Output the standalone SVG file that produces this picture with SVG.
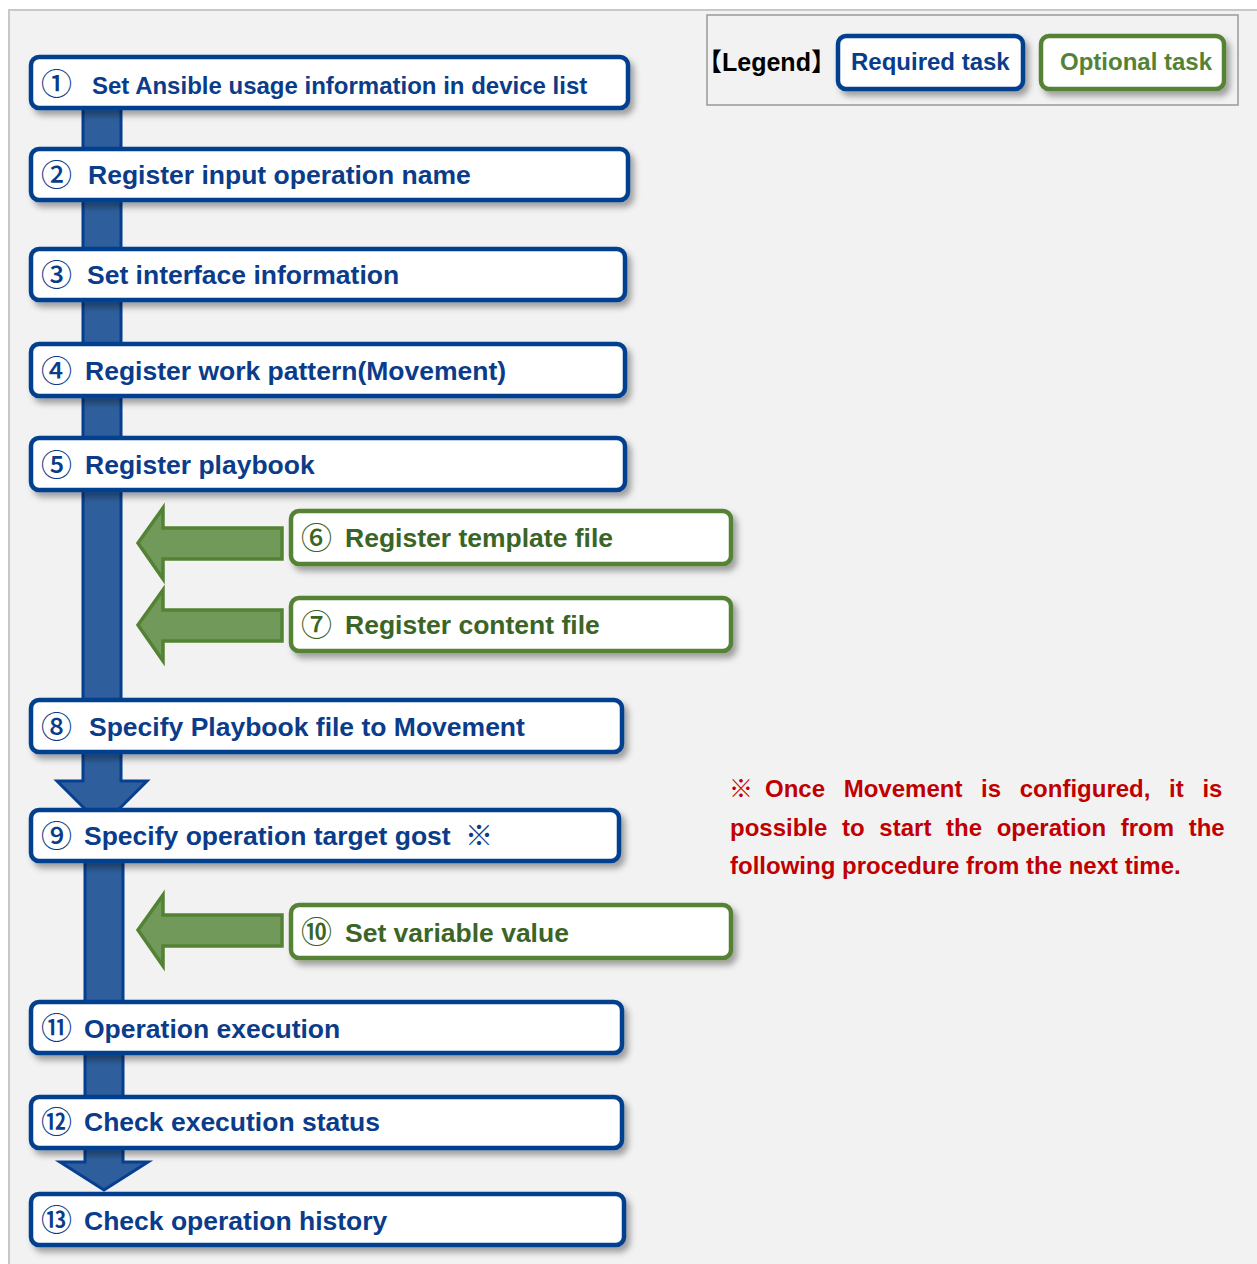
<svg xmlns="http://www.w3.org/2000/svg" width="1257" height="1264" viewBox="0 0 1257 1264">
<defs>
<filter id="sh" x="-10%" y="-30%" width="120%" height="170%">
<feDropShadow dx="4" dy="5" stdDeviation="3" flood-color="#000" flood-opacity="0.35"/>
</filter>
<style>
.req{fill:#fff;stroke:#063f8f;stroke-width:4.5;filter:url(#sh)}
.opt{fill:#fff;stroke:#548235;stroke-width:4.5;filter:url(#sh)}
.bar{fill:#2e5f9c;stroke:#063f8f;stroke-width:3}
.garr{fill:#71995a;stroke:#548235;stroke-width:3.5}
.t{font-family:"Liberation Sans",Arial,sans-serif;font-weight:bold;font-size:26.5px}
.tb{fill:#0b3c8a}
.tg{fill:#3b6526}
.n{font-family:"Noto Sans CJK JP","DejaVu Sans",sans-serif;font-weight:500;font-size:31px;dominant-baseline:central}
.red{font-family:"Liberation Sans",Arial,sans-serif;font-weight:bold;font-size:24px;fill:#c00000}
</style>
</defs>
<rect x="9" y="10" width="1270" height="1280" fill="#f2f2f2" stroke="#c8c8c8" stroke-width="2"/>

<g id="connectors">
<rect class="bar" x="83" y="100" width="38" height="605"/>
<polygon class="bar" points="83,750 121,750 121,781 147,781 102,826 57,781 83,781"/>
<rect class="bar" x="85" y="858" width="38" height="148"/>
<rect class="bar" x="85" y="1050" width="38" height="50"/>
<polygon class="bar" points="85,1145 123,1145 123,1162 148,1162 104,1190 60,1162 85,1162"/>
<polygon class="garr" points="138,543 163,508 163,528 282,528 282,559 163,559 163,579"/>
<polygon class="garr" points="138,625 163,590 163,610 282,610 282,641 163,641 163,661"/>
<polygon class="garr" points="138,930 163,895 163,915 282,915 282,946 163,946 163,966"/>
</g>

<g id="legend">
<rect x="707" y="15" width="531" height="90" fill="#f2f2f2" stroke="#999" stroke-width="1.5"/>
<text x="697" y="71" class="t" style="font-size:25px" fill="#000"><tspan font-family="Noto Sans CJK JP,sans-serif">【</tspan>Legend<tspan font-family="Noto Sans CJK JP,sans-serif">】</tspan></text>
<rect class="req" x="838" y="36" width="185" height="53" rx="8"/>
<text x="851" y="70" class="t tb" style="font-size:24px">Required task</text>
<rect class="opt" x="1041" y="36" width="183" height="53" rx="8"/>
<text x="1060" y="70" class="t" style="font-size:24px;fill:#548235">Optional task</text>
</g>

<g id="n1"><rect class="req" x="31" y="57" width="597" height="51" rx="8"/>
<text x="41" y="81" class="n tb">①</text><text x="92" y="94" class="t tb" style="font-size:24px">Set Ansible usage information in device list</text></g>
<g id="n2"><rect class="req" x="31" y="149" width="597" height="51" rx="8"/>
<text x="41" y="172" class="n tb">②</text><text x="88" y="184" class="t tb">Register input operation name</text></g>
<g id="n3"><rect class="req" x="31" y="249" width="594" height="51" rx="8"/>
<text x="41" y="272" class="n tb">③</text><text x="87" y="284" class="t tb">Set interface information</text></g>
<g id="n4"><rect class="req" x="31" y="344" width="594" height="52" rx="8"/>
<text x="41" y="368" class="n tb">④</text><text x="85" y="380" class="t tb">Register work pattern(Movement)</text></g>
<g id="n5"><rect class="req" x="31" y="438" width="594" height="52" rx="8"/>
<text x="41" y="462" class="n tb">⑤</text><text x="85" y="474" class="t tb">Register playbook</text></g>
<g id="n6"><rect class="opt" x="291" y="511" width="440" height="53" rx="8"/>
<text x="301" y="535" class="n tg">⑥</text><text x="345" y="547" class="t tg">Register template file</text></g>
<g id="n7"><rect class="opt" x="291" y="598" width="440" height="53" rx="8"/>
<text x="301" y="622" class="n tg">⑦</text><text x="345" y="634" class="t tg">Register content file</text></g>
<g id="n8"><rect class="req" x="31" y="700" width="591" height="52" rx="8"/>
<text x="41" y="724" class="n tb">⑧</text><text x="89" y="736" class="t tb">Specify Playbook file to Movement</text></g>
<g id="n9"><rect class="req" x="31" y="810" width="588" height="51" rx="8"/>
<text x="41" y="833" class="n tb">⑨</text><text x="84" y="845" class="t tb">Specify operation target gost</text><text x="465" y="834" class="n tb" style="font-size:28px;font-weight:bold">※</text></g>
<g id="n10"><rect class="opt" x="291" y="905" width="440" height="53" rx="8"/>
<text x="301" y="929" class="n tg">⑩</text><text x="345" y="942" class="t tg">Set variable value</text></g>
<g id="n11"><rect class="req" x="31" y="1002" width="591" height="51" rx="8"/>
<text x="41" y="1025" class="n tb">⑪</text><text x="84" y="1038" class="t tb">Operation execution</text></g>
<g id="n12"><rect class="req" x="31" y="1097" width="591" height="51" rx="8"/>
<text x="41" y="1119" class="n tb">⑫</text><text x="84" y="1131" class="t tb">Check execution status</text></g>
<g id="n13"><rect class="req" x="31" y="1194" width="593" height="51" rx="8"/>
<text x="41" y="1217" class="n tb">⑬</text><text x="84" y="1230" class="t tb">Check operation history</text></g>

<g id="note">
<text class="red" x="729" y="797"><tspan font-family="Noto Sans CJK JP,sans-serif">※</tspan><tspan x="765" word-spacing="12">Once Movement is configured, it is</tspan></text>
<text class="red" x="730" y="836" word-spacing="8">possible to start the operation from the</text>
<text class="red" x="730" y="874">following procedure from the next time.</text>
</g>
</svg>
